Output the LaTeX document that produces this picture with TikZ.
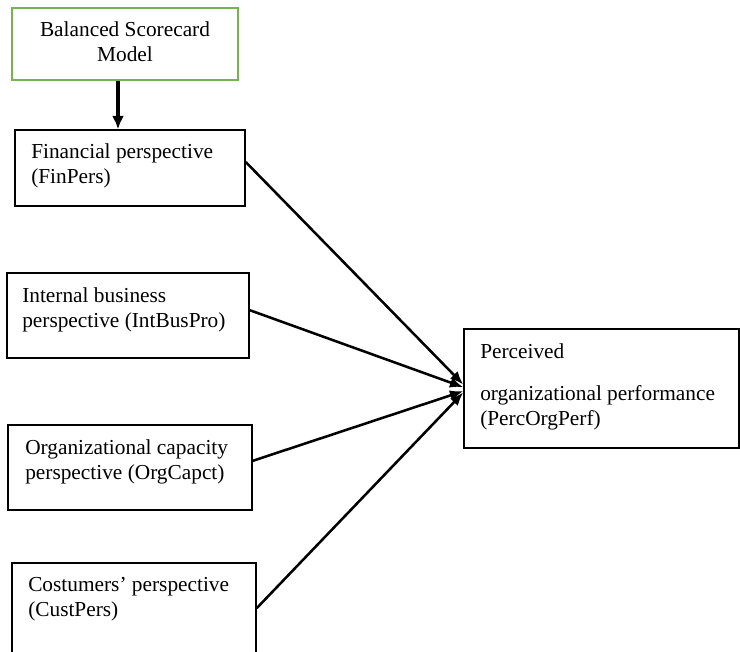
\documentclass[tikz,border=0pt]{standalone}
\usepackage{fontspec}
\setmainfont{Liberation Serif}
\usepackage{tikz}
\usetikzlibrary{
  arrows.meta,
  positioning,
  fit
}
\definecolor{bscgreen}{RGB}{118,178,78}
\tikzset{
  perspbox/.style={draw=black, line width=1.1pt, inner sep=0pt},
  modelbox/.style={draw=bscgreen, line width=1.1pt, inner sep=0pt},
  boxtext/.style={anchor=base west, inner sep=0pt, align=left, font=\fontsize{16}{18.75}\selectfont},
  link/.style={line width=1.9pt, -{Latex[length=10pt,width=8pt]}}
}

\begin{document}
\begin{tikzpicture}[x=0.75pt, y=-0.75pt]
  \path[use as bounding box, clip] (0,0) rectangle (740,651);
  % boxes
  \node[modelbox, fit={(12,8) (238,80)}] (bsc) {};
  \node[perspbox, fit={(15,130) (245,206)}] (fin) {};
  \node[perspbox, fit={(7,273) (249,358)}] (ibp) {};
  \node[perspbox, fit={(8,425) (252,510)}] (ocp) {};
  \node[perspbox, fit={(12,563) (256,660)}] (cus) {};
  \node[perspbox, fit={(464,329) (739,448)}] (perc) {};
  % texts (placed at the baseline of their last line)
  \node[boxtext, anchor=base, align=center] (bsctext) at (125,61) {Balanced Scorecard\\Model};
  \node[boxtext] (fintext) at (31,183) {Financial perspective\\(FinPers)};
  \node[boxtext] (ibptext) at (22,327) {Internal business\\perspective (IntBusPro)};
  \node[boxtext] (ocptext) at (25,479) {Organizational capacity\\perspective (OrgCapct)};
  \node[boxtext] (custext) at (28,616) {Costumers' perspective\\(CustPers)};
  \node[boxtext] (perctext) at (480,425) {Perceived\\[12.5pt]organizational performance\\(PercOrgPerf)};
  % links
  \draw[line width=3pt, -{Latex[length=10pt,width=9pt]}] ([xshift=-5.25pt]bsc.south) -- ([xshift=-5.25pt]bsc.south |- fin.north);
  \draw[link] ([yshift=4.5pt]fin.east) -- ([yshift=3pt]perc.west);
  \draw[link] ([yshift=4pt]ibp.east) -- ([yshift=1pt]perc.west);
  \draw[link] ([yshift=5pt]ocp.east) -- ([yshift=-2pt]perc.west);
  \draw[link] ([yshift=2.5pt]cus.east) -- ([yshift=-3pt]perc.west);
\end{tikzpicture}
\end{document}
